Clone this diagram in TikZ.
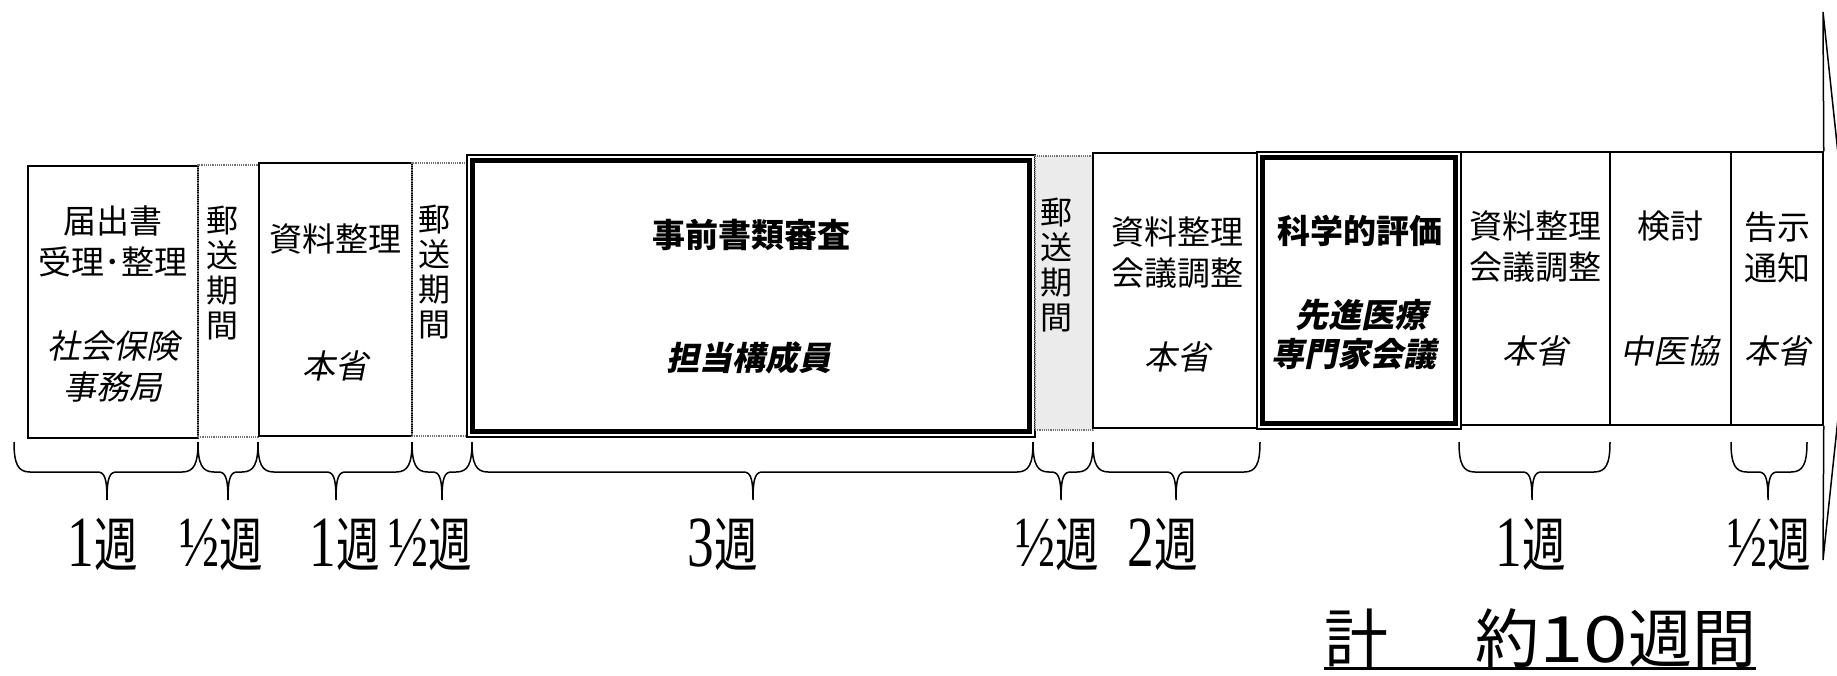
\documentclass[tikz,border=0pt]{standalone}
\usepackage{fontspec}
\usepackage{graphicx}
\setmainfont{Liberation Serif}
\newfontfamily\jp[AutoFakeSlant=0.2]{Noto Sans CJK JP}

\newcommand{\wk}[1]{\scalebox{0.74}[1]{{\fontsize{72}{72}\selectfont #1}{\jp 週}}}
\newcommand{\wkbrace}[3]{%
  \draw[brace] (#1,442) .. controls (#1,464) and (#1+4,472) .. (#1+16,472)
    -- (#3-10,472) .. controls (#3-3,472) and (#3,476) .. (#3,500)
    .. controls (#3,476) and (#3+3,472) .. (#3+10,472)
    -- (#2-16,472) .. controls (#2-4,472) and (#2,464) .. (#2,442);}

\tikzset{
  box/.style={draw, line width=1.5pt, inner sep=0pt},
  heavy/.style={draw, line width=1.2pt, inner sep=0pt},
  gapbox/.style={draw=black!55, densely dotted, line width=1.2pt, inner sep=0pt},
  ttl/.style={font=\jp\fontsize{33}{41}\selectfont, align=center, inner sep=0pt},
  org/.style={font=\jp\itshape\fontsize{33}{41}\selectfont, align=center, inner sep=0pt},
  bttl/.style={font=\jp\bfseries\fontsize{33}{39}\selectfont, align=center, inner sep=0pt},
  borg/.style={font=\jp\bfseries\fontsize{33}{39}\selectfont, align=center, inner sep=0pt,
    xslant=0.2, transform shape},
  vtxt/.style={font=\jp\fontsize{32}{35}\selectfont, align=center, inner sep=0pt},
  brace/.style={line width=1.5pt},
  wklbl/.style={font=\fontsize{59}{59}\selectfont, inner sep=0pt},
}

\begin{document}
\begin{tikzpicture}[x=1pt, y=-1pt]
  \useasboundingbox (0,0) rectangle (1837,675);

  % boxes along the time line
  \node[box, minimum width=170pt, minimum height=272pt] (todoke) at (113,302) {};
  \node[gapbox, minimum width=61pt, minimum height=272pt] (yuso1) at (228.5,301) {};
  \node[box, minimum width=153pt, minimum height=273pt] (shiryo1) at (335.5,299.5) {};
  \node[gapbox, minimum width=55pt, minimum height=273pt] (yuso2) at (439.5,299.5) {};
  \node[heavy, minimum width=568pt, minimum height=282pt] (jizen) at (751,296) {};
  \node[gapbox, fill=black!8, minimum width=58pt, minimum height=274pt] (yuso3) at (1064,293) {};
  \node[box, minimum width=164pt, minimum height=275pt] (shiryo2) at (1175,290.5) {};
  \node[heavy, minimum width=204pt, minimum height=277pt] (kagaku) at (1359,290.5) {};
  \node[box, minimum width=149pt, minimum height=273pt] (shiryo3) at (1535.5,288.5) {};
  \node[box, minimum width=121pt, minimum height=273pt] (kento) at (1670.5,288.5) {};
  \node[box, minimum width=92pt, minimum height=273pt] (kokuji) at (1777,288.5) {};

  \draw[line width=4.5pt] ([shift={(6,6)}]jizen.north west) rectangle ([shift={(-6,-6)}]jizen.south east);
  \draw[line width=4.5pt] ([shift={(6,6)}]kagaku.north west) rectangle ([shift={(-6,-6)}]kagaku.south east);

  % arrow head
  \draw[line width=1.5pt, line join=miter] (kokuji.north east) -- (1823,12) -- (1852,286) -- (1823,560) -- (kokuji.south east);

  % texts
  \node[ttl] (todoke-t) at (113,241) {届出書\\受理･整理};
  \node[org] (todoke-o) at (113,367) {社会保険\\事務局};
  \node[vtxt] (yuso1-t) at (222,273) {郵\\送\\期\\間};
  \node[ttl] (shiryo1-t) at (335,239) {資料整理};
  \node[org] (shiryo1-o) at (335,366) {本省};
  \node[vtxt] (yuso2-t) at (434,272) {郵\\送\\期\\間};
  \node[bttl] (jizen-t) at (751,235) {事前書類審査};
  \node[borg] (jizen-o) at (752,358) {担当構成員};
  \node[vtxt] (yuso3-t) at (1056,265) {郵\\送\\期\\間};
  \node[ttl] (shiryo2-t) at (1177,253) {資料整理\\会議調整};
  \node[org] (shiryo2-o) at (1177,357) {本省};
  \node[bttl] (kagaku-t) at (1360,231) {科学的評価};
  \node[borg] (kagaku-o) at (1360,335) {先進医療\\専門家会議};
  \node[ttl] (shiryo3-t) at (1535,247) {資料整理\\会議調整};
  \node[org] (shiryo3-o) at (1535,351) {本省};
  \node[ttl] (kento-t) at (1670,226) {検討};
  \node[org] (kento-o) at (1670,351) {中医協};
  \node[ttl] (kokuji-t) at (1777,247) {告示\\通知};
  \node[org] (kokuji-o) at (1777,351) {本省};

  % braces and weeks
  \foreach \l/\r/\t in {14/198/107, 198/258/228, 258/412/336, 412/472/442, 472/1033/753,
                        1033/1093/1061, 1093/1260/1176, 1459/1610/1532, 1731/1807/1768}
    \wkbrace{\l}{\r}{\t};

  \node[wklbl] (w1) at (103,545) {\wk{1}};
  \node[wklbl] (w2) at (221,545) {\wk{½}};
  \node[wklbl] (w3) at (345,545) {\wk{1}};
  \node[wklbl] (w4) at (430,545) {\wk{½}};
  \node[wklbl] (w5) at (723,545) {\wk{3}};
  \node[wklbl] (w6) at (1057,545) {\wk{½}};
  \node[wklbl] (w7) at (1163,545) {\wk{2}};
  \node[wklbl] (w8) at (1531,545) {\wk{1}};
  \node[wklbl] (w9) at (1769,545) {\wk{½}};

  % total
  \node[font=\jp\fontsize{64}{64}\selectfont, inner sep=0pt, anchor=base west] (total) at (1324,662)
    {計\hspace{1.36em}約\scalebox{1.25}[1]{10}週間};
  \draw[line width=2.5pt] ([yshift=-1pt]total.south west) -- ([yshift=-1pt]total.south east);
\end{tikzpicture}
\end{document}
